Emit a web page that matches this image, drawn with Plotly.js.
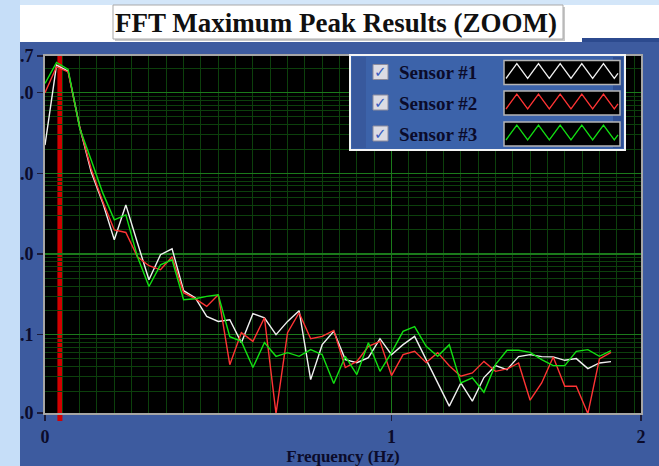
<!DOCTYPE html>
<html><head><meta charset="utf-8">
<script src="https://cdn.plot.ly/plotly-3.0.1.min.js"></script>
<style>html,body{margin:0;padding:0;background:#3d5b9f;} #chart{width:659px;height:466px;}</style>
</head><body><div id="chart"></div>
<script>
// ---- data ----
const frequencyHz = [0, 0.0333, 0.0667, 0.1, 0.1333, 0.1667, 0.2, 0.2333, 0.2667, 0.3,
  0.3333, 0.3667, 0.4, 0.4333, 0.4667, 0.5, 0.5333, 0.5667, 0.6, 0.6333,
  0.6667, 0.7, 0.7333, 0.7667, 0.8, 0.8333, 0.8667, 0.9, 0.9333, 0.9667,
  1.0, 1.0333, 1.0667, 1.1, 1.1333, 1.1667, 1.2, 1.2333, 1.2667, 1.3,
  1.3333, 1.3667, 1.4, 1.4333, 1.4667, 1.5, 1.5333, 1.5667, 1.6, 1.6333];
const sensor1 = [22.4, 219.6, 185, 37.8, 10.4, 4.30, 1.50, 4.06, 1.38, 0.48,
  0.98, 1.16, 0.351, 0.287, 0.168, 0.146, 0.153, 0.0796, 0.182, 0.162,
  0.1, 0.146, 0.198, 0.0277, 0.0752, 0.110, 0.0491, 0.045, 0.0519, 0.0892,
  0.0565, 0.0752, 0.0953, 0.0491, 0.0252, 0.013, 0.0252, 0.015, 0.0294, 0.0413,
  0.0369, 0.0534, 0.0565, 0.0534, 0.053, 0.0481, 0.0505, 0.038, 0.0446, 0.0463];
const sensor2 = [99.8, 209, 181, 37.5, 11.3, 4.46, 1.99, 1.85, 0.923, 0.715,
  0.637, 0.923, 0.331, 0.279, 0.224, 0.313, 0.0425, 0.106, 0.0826, 0.162,
  0.0105, 0.106, 0.187, 0.0892, 0.0953, 0.113, 0.0391, 0.0467, 0.0716, 0.0826,
  0.0311, 0.0565, 0.0621, 0.045, 0.0599, 0.0413, 0.0305, 0.0336, 0.0467, 0.0351,
  0.0376, 0.0446, 0.0154, 0.0252, 0.053, 0.0229, 0.0229, 0.0105, 0.05, 0.0604];
const sensor3 = [130, 237, 194, 36.5, 14.6, 5.72, 2.65, 3.05, 0.93, 0.396,
  0.734, 0.847, 0.271, 0.279, 0.298, 0.313, 0.0944, 0.0826, 0.0391, 0.08,
  0.0539, 0.0599, 0.0539, 0.0652, 0.0565, 0.0248, 0.0539, 0.032, 0.0796, 0.0351,
  0.0599, 0.110, 0.1256, 0.0716, 0.0539, 0.0752, 0.0252, 0.0291, 0.0193, 0.0425,
  0.064, 0.064, 0.0604, 0.0491, 0.0413, 0.0413, 0.0621, 0.0652, 0.0539, 0.0634];
const seriesNames = ['Sensor #1', 'Sensor #2', 'Sensor #3'];
const peakFrequencyHz = 0.043;
const xTickVals = [0, 1, 1.72];
const xTickText = ['0', '1', '2'];
const yTickVals = [0.0107, 0.1, 1, 10, 100, 284.7];
const yTickText = ['0.0', '0.1', '1.0', '10.0', '100.0', '284.7'];
const xRange = [0, 1.72];
const yMin = 0.01069, yMax = 284.8;

// ---- styling ----
const seriesColors = ['#f0f0f0', '#ff3434', '#12e012'];
const FONT = 'Liberation Serif, Times New Roman, serif';
const TXT = '#0b0b2a';
const W = 659, H = 466, ML = 45, MR = 18, MT = 56, MB = 53;
const PW = W - ML - MR, PH = H - MT - MB;
const px = v => (v - ML) / PW;          // pixel x -> paper
const py = v => (H - MB - v) / PH;      // pixel y -> paper

const yMinor = [];
for (let e = -2; e <= 2; e++) for (let k = 2; k <= 9; k++) {
  const v = k * Math.pow(10, e);
  if (v > yMin && v < yMax) yMinor.push(v);
}

const sensors = [sensor1, sensor2, sensor3];
const traces = sensors.map((s, i) => ({
  type: 'scatter', mode: 'lines', x: frequencyHz, y: s, name: seriesNames[i],
  line: {color: seriesColors[i], width: 1.4}, showlegend: false, hoverinfo: 'skip'
}));

function rect(x0, y0, x1, y1, fill, line, lw, layer) {
  return {type: 'rect', xref: 'paper', yref: 'paper', x0: px(x0), x1: px(x1), y0: py(y1), y1: py(y0),
    fillcolor: fill, line: {color: line || fill, width: lw === undefined ? 0 : lw}, layer: layer || 'above'};
}
const shapes = [
  rect(20, 5, 659, 42, '#ffffff', null, 0, 'below'),
  rect(0, 0, 659, 5, '#d3e6f9', null, 0, 'below'),
  rect(582, 38, 659, 42, '#2c4a8e', null, 0, 'below'),
  rect(115, 7, 565, 41, '#c8c8c8', null, 0, 'below'),
  rect(113, 5, 563, 39, '#ffffff', '#a9a9a9', 1, 'below'),
  rect(0, 0, 20, 466, '#c6def8', null, 0, 'above'),
  {type: 'line', xref: 'x', yref: 'paper', x0: peakFrequencyHz, x1: peakFrequencyHz, y0: -8 / PH, y1: 1,
    line: {color: '#d20000', width: 5}, layer: 'between'},
  rect(350, 55, 625, 150, '#3c63aa', '#f4f4f4', 2, 'above'),
  rect(352, 57, 366, 148, '#38599d', null, 0, 'above'),
  rect(613, 57, 623, 148, '#2f4f93', null, 0, 'above')
];
const annotations = [];
const rowY = [72.5, 103, 134];
rowY.forEach((cy, i) => {
  shapes.push(rect(373, cy - 8, 388, cy + 7, '#dcdce4', '#8c8c9c', 1, 'above'));
  shapes.push(rect(504, cy - 12, 620, cy + 12, '#000000', '#b4b4b4', 1.5, 'above'));
  let d = '', x = 506, up = true, step = 10.83, c = cy - 1.5, amp = 7.5;
  d += 'M' + px(x) + ',' + py(c + amp);
  while (x + step <= 618) {
    x += step;
    d += ' L' + px(x) + ',' + py(up ? c - amp : c + amp);
    up = !up;
  }
  const frac = (618 - x) / step;
  const yEnd = up ? (c + amp) - 2 * amp * frac : (c - amp) + 2 * amp * frac;
  d += ' L' + px(618) + ',' + py(yEnd);
  shapes.push({type: 'path', xref: 'paper', yref: 'paper', path: d, line: {color: seriesColors[i], width: 1.3}, layer: 'above'});
  annotations.push({xref: 'paper', yref: 'paper', x: px(397), y: py(cy), xanchor: 'left', yanchor: 'middle',
    text: seriesNames[i], showarrow: false, font: {family: FONT, size: 19, weight: 'bold', color: TXT}});
  annotations.push({xref: 'paper', yref: 'paper', x: px(380.5), y: py(cy - 0.5), xanchor: 'center', yanchor: 'middle',
    text: '✓', showarrow: false, font: {family: 'DejaVu Sans', size: 15, weight: 'bold', color: '#3a5cc0'}});
});

const layout = {
  width: W, height: H,
  margin: {l: ML, r: MR, t: MT, b: MB, pad: 0},
  paper_bgcolor: '#3d5b9f', plot_bgcolor: '#000000',
  showlegend: false,
  title: {text: 'FFT Maximum Peak Results (ZOOM)', xref: 'container', yref: 'container',
    x: 336 / W, xanchor: 'center', y: 1 - 23 / H, yanchor: 'middle',
    font: {family: FONT, size: 27, weight: 'bold', color: '#101010'}},
  xaxis: {range: xRange, tickmode: 'array', tickvals: xTickVals, ticktext: xTickText,
    ticks: 'outside', ticklen: 6, tickwidth: 1.5, tickcolor: '#1b1b3a',
    tickfont: {family: FONT, size: 18, weight: 'bold', color: TXT},
    showgrid: true, gridcolor: '#1b7a1b', gridwidth: 1,
    minor: {tickmode: 'linear', tick0: 0, dtick: 0.05, showgrid: true, gridcolor: '#0c400c', gridwidth: 1, ticks: ''},
    showline: true, linecolor: '#a6a6a6', linewidth: 2, mirror: true, zeroline: false, fixedrange: true,
    title: {text: 'Frequency (Hz)', standoff: 4, font: {family: FONT, size: 17, weight: 'bold', color: TXT}}},
  yaxis: {type: 'log', range: [Math.log10(yMin), Math.log10(yMax)], tickmode: 'array',
    tickvals: yTickVals, ticktext: yTickText,
    ticks: 'outside', ticklen: 6, tickwidth: 1.5, tickcolor: '#1b1b3a',
    tickfont: {family: FONT, size: 18, weight: 'bold', color: TXT},
    showgrid: true, gridcolor: '#1b7a1b', gridwidth: 1.5,
    minor: {tickmode: 'array', tickvals: yMinor, showgrid: true, gridcolor: '#0c400c', gridwidth: 1, ticks: ''},
    showline: true, linecolor: '#a6a6a6', linewidth: 2, mirror: true, zeroline: false, fixedrange: true},
  shapes: shapes,
  annotations: annotations
};
Plotly.newPlot('chart', traces, layout, {staticPlot: true, displayModeBar: false});
</script>
</body></html>
